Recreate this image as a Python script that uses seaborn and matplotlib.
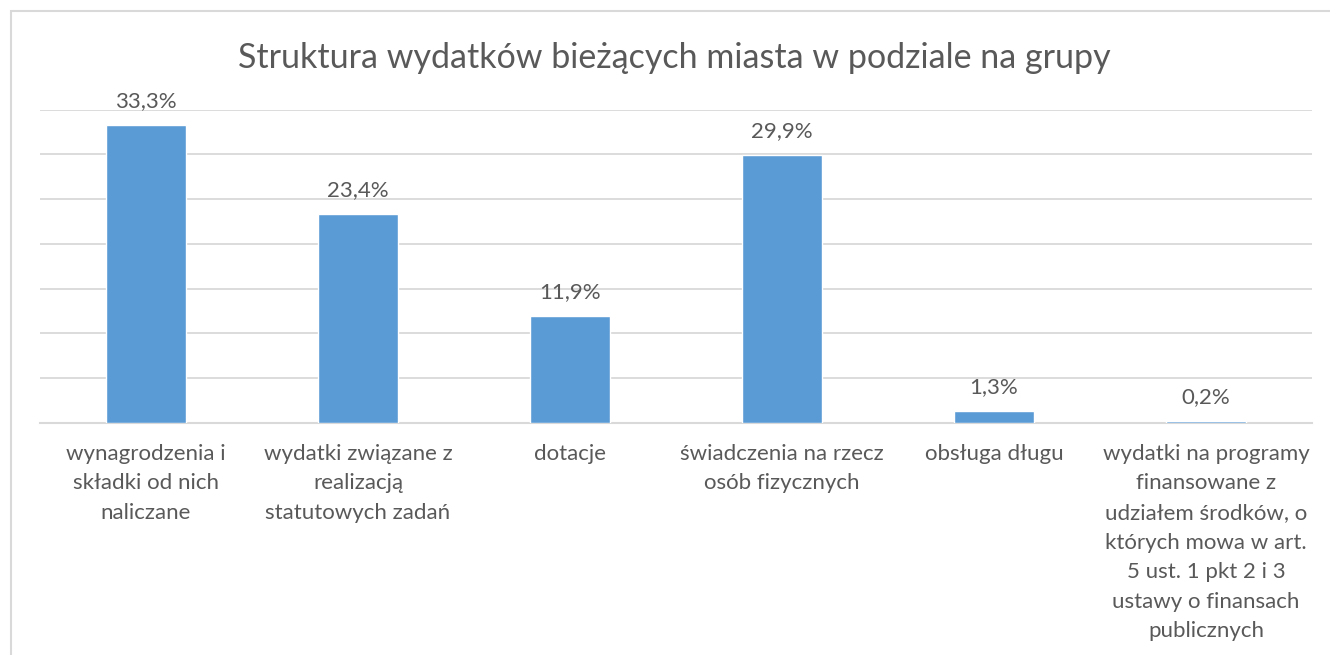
import pandas as pd
import matplotlib.pyplot as plt
import matplotlib.patches as mpatches
from matplotlib.ticker import MultipleLocator, FixedLocator
import seaborn as sns

# dane
kategorie = [
    "wynagrodzenia i\nskładki od nich\nnaliczane",
    "wydatki związane z\nrealizacją\nstatutowych zadań",
    "dotacje",
    "świadczenia na rzecz\nosób fizycznych",
    "obsługa długu",
    "wydatki na programy\nfinansowane z\nudziałem środków, o\nktórych mowa w art.\n5 ust. 1 pkt 2 i 3\nustawy o finansach\npublicznych",
]
udzial = [33.3, 23.4, 11.9, 29.9, 1.3, 0.2]
tytul = "Struktura wydatków bieżących miasta w podziale na grupy"

sns.set_style("white")
plt.rcParams['font.family'] = ['Lato', 'DejaVu Sans']

kolor_tekstu = "#595959"
kolor_siatki = "#D9D9D9"

df = pd.DataFrame({"grupa": kategorie, "udzial": udzial})

fig = plt.figure(figsize=(13.3, 6.55), dpi=100)
ax = fig.add_axes([40 / 1330, 1 - 423 / 655, 1272 / 1330, 313.3 / 655])

sns.barplot(data=df, x="grupa", y="udzial", color="#5B9BD5", saturation=1,
            width=0.38, ax=ax, zorder=3)

ax.set_ylim(0, 35)
ax.set_xlim(-0.5, len(kategorie) - 0.5)
ax.yaxis.set_major_locator(MultipleLocator(5))
ax.grid(axis="y", color=kolor_siatki, linewidth=1.3, zorder=0)
ax.set_axisbelow(True)
ax.set_yticklabels([])
ax.tick_params(axis="y", length=0)
ax.set_xlabel("")
ax.set_ylabel("")

for s in ["top", "right", "left"]:
    ax.spines[s].set_visible(False)
ax.spines["bottom"].set_color(kolor_siatki)
ax.spines["bottom"].set_linewidth(1.5)

# etykiety kategorii i kreski podziału
ax.set_xticks(range(len(kategorie)))
ax.set_xticklabels(kategorie, linespacing=1.6, fontsize=16, color=kolor_tekstu)
ax.tick_params(axis="x", which="major", length=0, pad=15)
ax.xaxis.set_minor_locator(FixedLocator([i - 0.5 for i in range(len(kategorie) + 1)]))
ax.tick_params(axis="x", which="minor", length=7, width=1.3, color=kolor_siatki)

# etykiety wartości
for i, v in enumerate(udzial):
    ax.annotate(f"{v:.1f}%".replace(".", ","), (i, v), xytext=(0, 10),
                textcoords="offset points", ha="center", va="bottom",
                fontsize=16, color=kolor_tekstu)

fig.text(674 / 1330, 1 - 58 / 655, tytul, ha="center", va="center",
         fontsize=24.5, color=kolor_tekstu)

# ramka wykresu
ramka = mpatches.Rectangle((11 / 1330, -0.1), 1.2, 1.1 - 11 / 655,
                           transform=fig.transFigure, fill=False,
                           edgecolor=kolor_siatki, linewidth=1.5)
fig.patches.append(ramka)

fig.savefig("out.png", dpi=100)
